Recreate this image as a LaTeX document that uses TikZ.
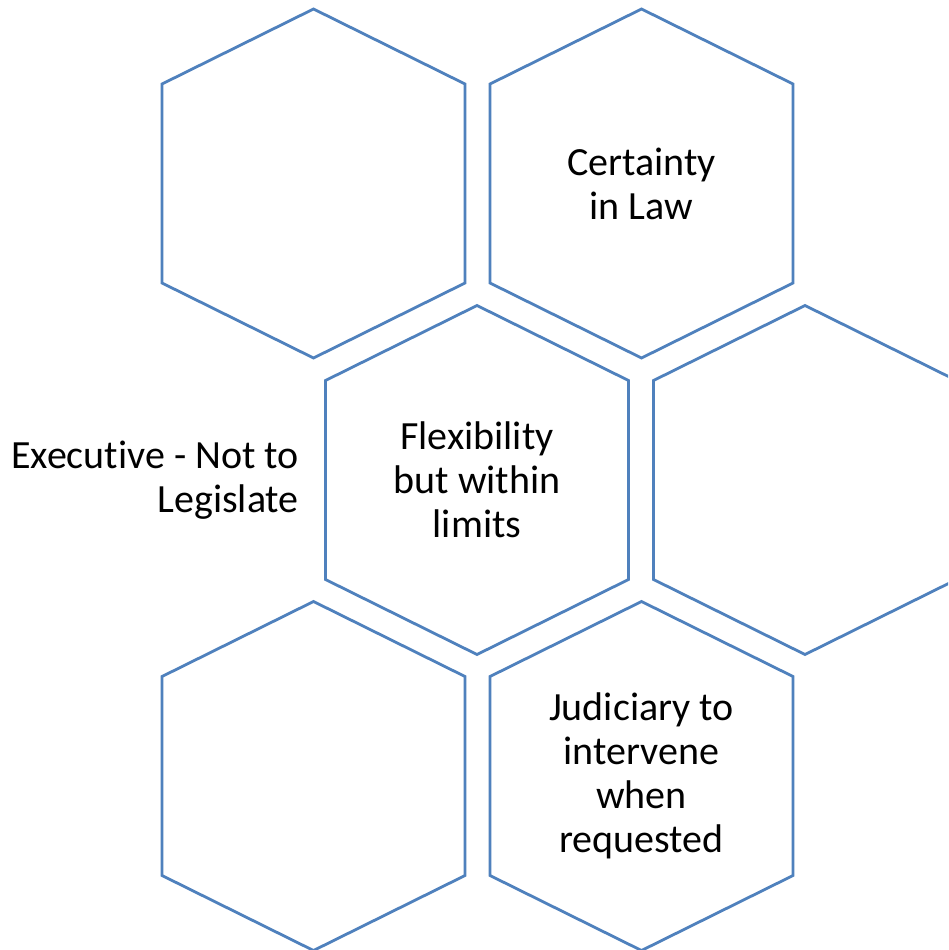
\documentclass[tikz,border=0pt]{standalone}
\usepackage{fontspec}
\setmainfont{Carlito}[Ligatures=NoCommon]
\definecolor{hexblue}{RGB}{79,129,189}
\tikzset{
  hex/.style={draw=hexblue, line width=2.8pt, line join=miter},
  lbl/.style={align=center, font=\fontsize{40}{44}\selectfont, text=black, inner sep=0pt},
}
\newcommand\hexshape[1]{\draw[hex] ([shift={(0,-174.5)}]#1) -- ([shift={(151.5,-99.5)}]#1) -- ([shift={(151.5,99.5)}]#1) -- ([shift={(0,174.5)}]#1) -- ([shift={(-151.5,99.5)}]#1) -- ([shift={(-151.5,-99.5)}]#1) -- cycle;}
\begin{document}
\begin{tikzpicture}[x=1pt,y=-1pt]
\useasboundingbox (0,0) rectangle (948,950);
\clip (0,0) rectangle (948,950);
\fill[white] (0,0) rectangle (948,950);
\coordinate (h1) at (313.5,183.5);
\coordinate (h2) at (641.5,183.5);
\coordinate (h3) at (477,480);
\coordinate (h4) at (805,480);
\coordinate (h5) at (313.5,776);
\coordinate (h6) at (641.5,776);
\hexshape{h1}
\hexshape{h2}
\hexshape{h3}
\hexshape{h4}
\hexshape{h5}
\hexshape{h6}
\node[lbl] (t2) at (h2) {Certainty\\in Law};
\node[lbl] (t3) at (h3) {Flexibility\\but within\\limits};
\node[lbl] (t6) at (h6) {Judiciary to\\intervene\\when\\requested};
\node[lbl, align=right, anchor=east] (t0) at (299,480) {Executive - Not to\\Legislate};
\end{tikzpicture}
\end{document}
